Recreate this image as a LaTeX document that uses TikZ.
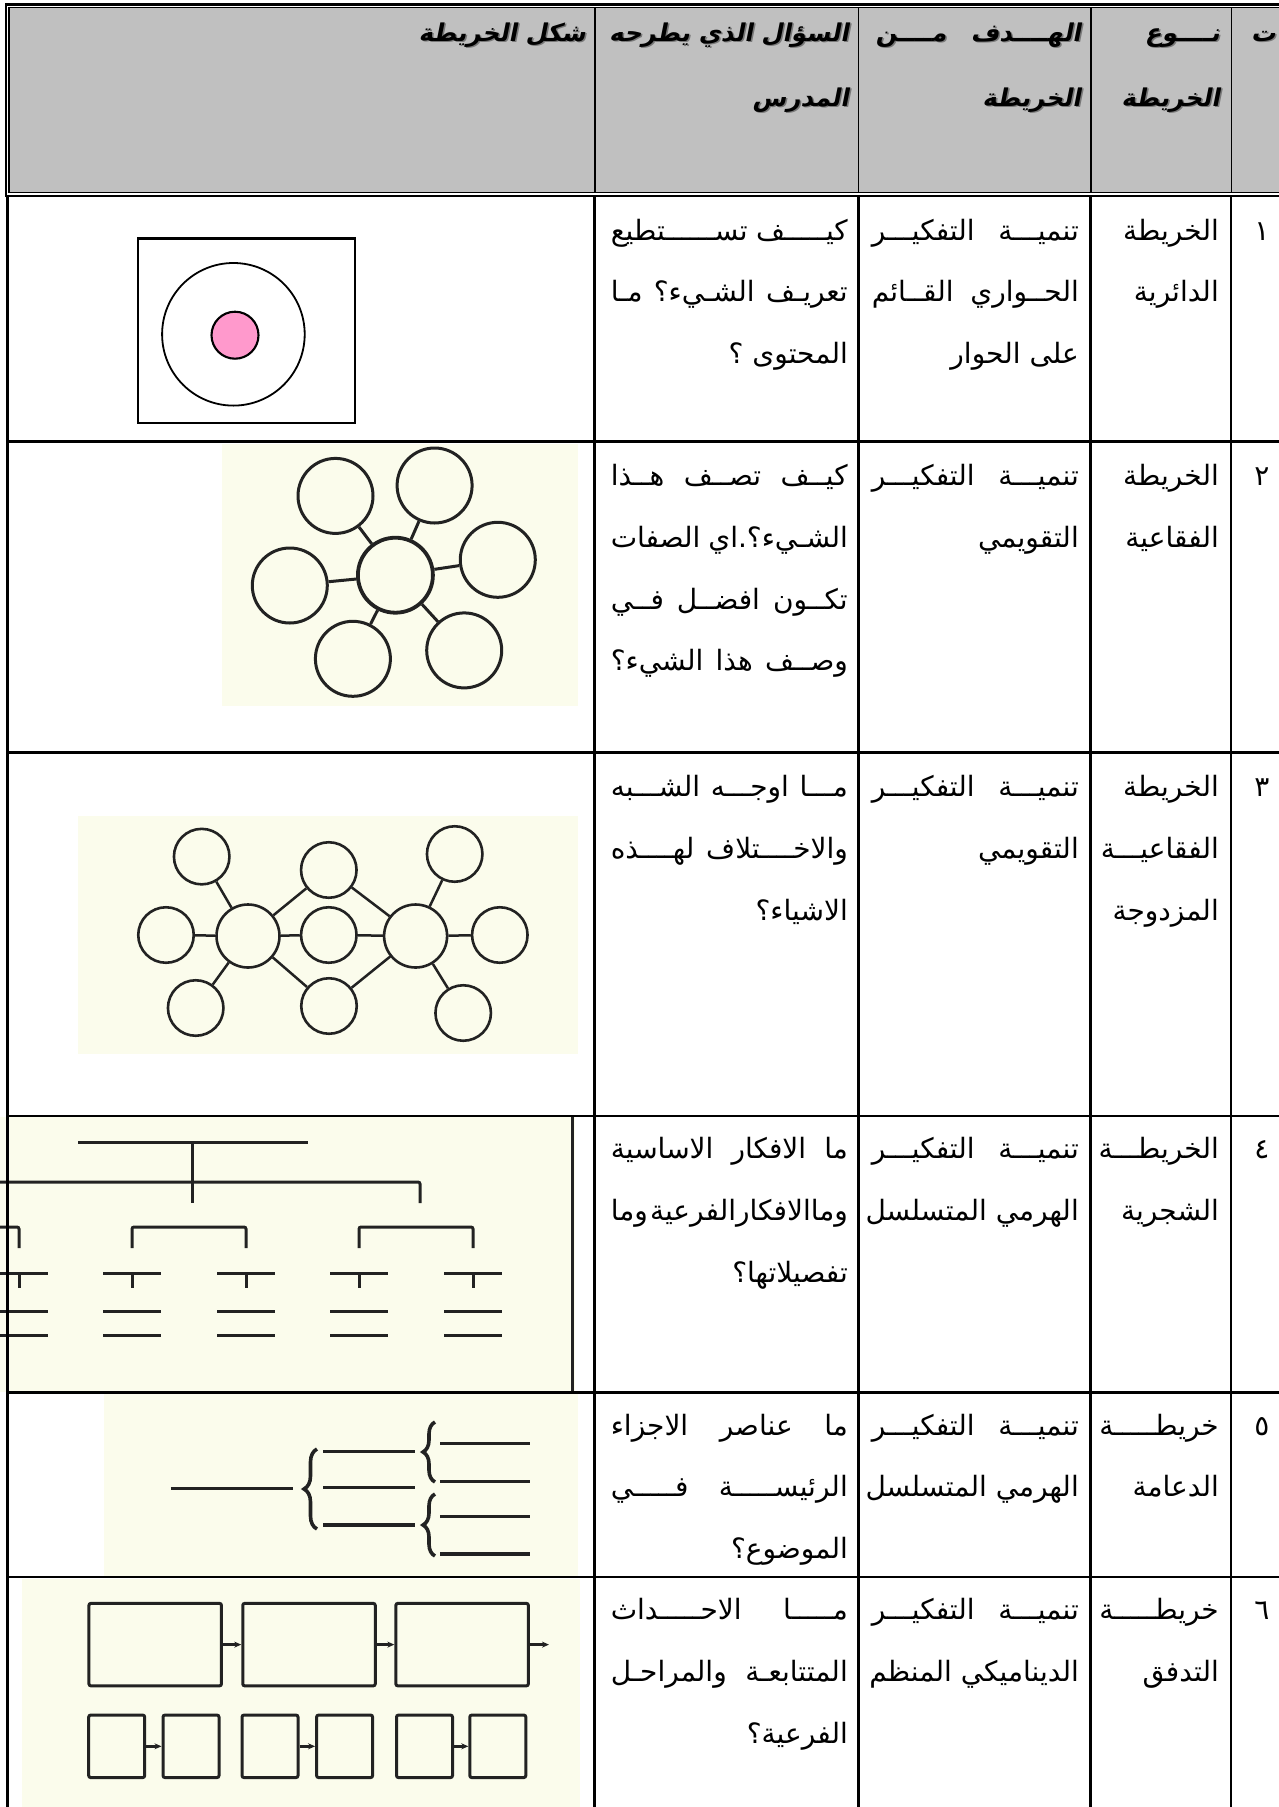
\documentclass[tikz,border=0pt]{standalone}
\usepackage{fontspec}
\usetikzlibrary{decorations.pathreplacing,arrows.meta}
\newfontfamily\arabicfont[Script=Arabic]{DejaVu Sans}
\newfontfamily\headfont[Script=Arabic,BoldFeatures={FakeSlant=0.2}]{DejaVu Sans}
\TeXXeTstate=1

\definecolor{headgray}{RGB}{192,192,192}
\definecolor{hshadow}{RGB}{120,120,120}
\definecolor{ivory}{RGB}{251,252,236}
\definecolor{ink}{RGB}{34,34,34}
\definecolor{pinkfill}{RGB}{255,153,204}

% one line of a cell: justified (words split by \wsp) or set flush right;
% the shrinkable glue keeps the right edge fixed if a line runs long
\newcommand\wsp{\hfill}
\newcommand\Jl[1]{\hbox to\hsize{\hskip0pt minus 1fil\beginR#1\endR}}
\newcommand\Rl[1]{\hbox to\hsize{\hskip0pt minus 1fil\hfill\beginR#1\endR}}
% header lines with a grey drop shadow
\newcommand\shline[1]{\hbox to\hsize{\rlap{\kern1.5pt\lower1.5pt\hbox to\hsize{\color{hshadow}#1}}\hbox to\hsize{#1}}}
\newcommand\HJ[1]{\shline{\hskip0pt minus 1fil\beginR#1\endR}}
\newcommand\HR[1]{\shline{\hskip0pt minus 1fil\hfill\beginR#1\endR}}
% a cell body of given width
\newcommand\celltxt[2]{\vtop{\hsize=#1pt\baselineskip=61.8pt\lineskiplimit=-1000pt\relax#2}}
\newcommand\headtxt[2]{\vtop{\hsize=#1pt\baselineskip=65pt\lineskiplimit=-1000pt\relax#2}}

\begin{document}
\begin{tikzpicture}[x=1pt,y=-1pt,
  bodytext/.style={anchor=base east,inner sep=0pt,font=\arabicfont\fontsize{28}{30}\selectfont},
  headtext/.style={anchor=base east,inner sep=0pt,font=\headfont\bfseries\fontsize{24.5}{26}\selectfont},
  numtext/.style={anchor=base,inner sep=0pt,font=\arabicfont\fontsize{28}{30}\selectfont},
  grid/.style={line width=2.3pt,black},
  thin/.style={line width=1.2pt,black},
  bub/.style={circle,draw=ink,line width=3pt,minimum size=75pt,inner sep=0pt},
  bubc/.style={bub,line width=3.8pt},
  dbig/.style={circle,draw=ink,line width=2.6pt,minimum size=63pt,inner sep=0pt},
  dsmall/.style={circle,draw=ink,line width=2.6pt,minimum size=55.5pt,inner sep=0pt},
  link/.style={draw=ink,line width=3pt},
  dlink/.style={draw=ink,line width=2.5pt},
  tree/.style={draw=ink,line width=3pt,rounded corners=2pt},
  brline/.style={draw=ink,line width=3.3pt},
  brc/.style={draw=ink,line width=3.6pt,decorate,decoration={brace,amplitude=#1}},
  fbox/.style={rectangle,draw=ink,line width=3pt,rounded corners=2pt,inner sep=0pt},
  flow/.style={draw=ink,line width=2.6pt,-{Stealth[length=7pt,width=6pt]}}
]
\useasboundingbox (0,0) rectangle (1279,1807);

% ---------- header band ----------
\fill[headgray] (9,7.3) rectangle (1295,192.3);
\draw[line width=2.4pt] (5.8,4.3) rectangle (1300,196);
\draw[thin] (9,7.3) rectangle (1300,192.3);
\foreach \x in {595,858.5,1091,1231.5} \draw[thin] (\x,7.3) -- (\x,192.3);

% ---------- picture backgrounds ----------
\fill[ivory] (222,444) rectangle (578,706);
\fill[ivory] (78,816) rectangle (578,1054);
\fill[ivory] (0,1117) rectangle (575,1392);
\fill[ivory] (103.6,1393) rectangle (578,1577);
\fill[ivory] (21.7,1579) rectangle (580,1807);

% ---------- 1: circle map ----------
\draw[line width=2.4pt] (138,238.5) rectangle (355,423);
\node[circle,draw=black,line width=1.8pt,minimum size=142.6pt,inner sep=0pt] (cmout) at (233.4,334.3) {};
\node[circle,draw=black,fill=pinkfill,line width=2.1pt,minimum size=47pt,inner sep=0pt] (cmin) at (235,335.2) {};

% ---------- 2: bubble map ----------
\node[bubc] (bc) at (395.4,575.2) {};
\node[bub] (b1) at (335.5,495.9) {};
\node[bub] (b2) at (434.6,485.5) {};
\node[bub] (b3) at (497.8,559.8) {};
\node[bub] (b4) at (289.8,585.5) {};
\node[bub] (b5) at (352.9,658.8) {};
\node[bub] (b6) at (464.2,650.4) {};
\foreach \n in {b1,b2,b3,b4,b5,b6} \path[link] (bc) -- (\n);

% ---------- 3: double bubble map ----------
\node[dbig] (dl) at (248,936) {};
\node[dbig] (dr) at (415.6,936) {};
\node[dsmall] (dm) at (328.8,935) {};
\node[dsmall] (dtm) at (328.8,870) {};
\node[dsmall] (dbm) at (329,1006) {};
\node[dsmall] (dtl) at (201.7,856.6) {};
\node[dsmall] (dlf) at (166,935) {};
\node[dsmall] (dbl) at (195.7,1008) {};
\node[dsmall] (dtr) at (454.7,854) {};
\node[dsmall] (drt) at (499.8,935) {};
\node[dsmall] (dbr) at (463.2,1013) {};
\foreach \n in {dtl,dlf,dbl,dtm,dm,dbm} \path[dlink] (dl) -- (\n);
\foreach \n in {dtr,drt,dbr,dtm,dm,dbm} \path[dlink] (dr) -- (\n);

% ---------- 4: tree map ----------
\begin{scope}
\clip (0,1117) rectangle (575,1392);
\draw[tree] (78,1142) -- (307.6,1142);
\draw[tree] (192.5,1142) -- (192.5,1203);
\draw[tree] (-20,1182) -- (420,1182) -- (420,1203);
\draw[tree] (-100,1227) -- (19,1227) -- (19,1248);
\draw[tree] (132,1248) -- (132,1227) -- (246,1227) -- (246,1248);
\draw[tree] (359,1248) -- (359,1227) -- (473,1227) -- (473,1248);
\foreach \c in {19,132,246,359,473} {
  \draw[tree] (\c-29,1273.5) -- (\c+29,1273.5);
  \draw[tree] (\c,1273.5) -- (\c,1288);
  \draw[tree] (\c-29,1311) -- (\c+29,1311);
  \draw[tree] (\c-29,1335) -- (\c+29,1335);
}
\end{scope}
\draw[line width=3.4pt,ink] (572.6,1117) -- (572.6,1392);

% ---------- 5: brace map ----------
\coordinate (wl) at (170.8,1488.5);
\coordinate (wr) at (292.7,1488.5);
\draw[brline] (wl) -- (wr);
\draw[brc=13pt] (317,1529) -- (317,1449);
\foreach \y in {1451.7,1487.7,1525} \draw[brline] (323,\y) -- (415,\y);
\draw[brc=12pt] (435,1482) -- (435,1422);
\draw[brc=12pt] (435,1556) -- (435,1494);
\foreach \y in {1443.3,1481.7,1516.7,1554} \draw[brline] (440,\y) -- (530,\y);

% ---------- 6: flow map ----------
\node[fbox,minimum width=132.5pt,minimum height=82.5pt] (f1) at (155.2,1644.6) {};
\node[fbox,minimum width=132.5pt,minimum height=82.5pt] (f2) at (309,1644.6) {};
\node[fbox,minimum width=132.5pt,minimum height=82.5pt] (f3) at (462.1,1644.6) {};
\coordinate (fend) at (549,1644.6);
\draw[flow] (f1) -- (f2);
\draw[flow] (f2) -- (f3);
\draw[flow] (f3) -- (fend);
\foreach \i/\x in {1/116.7,2/191,3/270,4/344.6,5/424.5,6/497.8}
  \node[fbox,minimum width=56pt,minimum height=62.5pt] (s\i) at (\x,1746.3) {};
\draw[flow] (s1) -- (s2);
\draw[flow] (s3) -- (s4);
\draw[flow] (s5) -- (s6);

% ---------- body rules ----------
\draw[grid] (7.5,196) -- (7.5,1810);
\foreach \x in {594.5,858.5,1090.5,1231} \draw[grid] (\x,196) -- (\x,1810);
\foreach \y in {441.5,752.5,1116,1392.5,1577} \draw[grid] (6.4,\y) -- (1300,\y);

% ---------- header text ----------
\node[headtext] (h0) at (1276,41) {\headtxt{30}{\HR{ت}}};
\node[headtext] (h1) at (1220,41) {\headtxt{120}{\HR{نــــوع}\HR{الخريطة}}};
\node[headtext] (h2) at (1081,41) {\headtxt{205}{\HJ{الهــــدف\wsp مــــن}\HR{الخريطة}}};
\node[headtext] (h3) at (849,41) {\headtxt{250}{\HR{السؤال الذي يطرحه}\HR{المدرس}}};
\node[headtext] (h4) at (586,41) {\headtxt{300}{\HR{شكل الخريطة}}};

% ---------- row 1 ----------
\node[numtext] (n1) at (1262,240) {١};
\node[bodytext] (t11) at (1219,240) {\celltxt{118}{\Rl{الخريطة}\Rl{الدائرية}}};
\node[bodytext] (t12) at (1079,240) {\celltxt{207}{\Jl{تنميـــة\wsp التفكيـــر}\Jl{الحــواري\wsp القــائم}\Rl{على الحوار}}};
\node[bodytext] (t13) at (848,240) {\celltxt{237}{\Jl{كيـــــف\wsp تســــــتطيع}\Jl{تعريـف\wsp الشـيء؟\wsp مـا}\Rl{المحتوى ؟}}};

% ---------- row 2 ----------
\node[numtext] (n2) at (1262,485.5) {٢};
\node[bodytext] (t21) at (1219,485.5) {\celltxt{118}{\Rl{الخريطة}\Rl{الفقاعية}}};
\node[bodytext] (t22) at (1079,485.5) {\celltxt{207}{\Jl{تنميـــة\wsp التفكيـــر}\Rl{التقويمي}}};
\node[bodytext] (t23) at (848,485.5) {\celltxt{237}{\Jl{كيــف\wsp تصــف\wsp هــذا}\Jl{الشـيء؟.اي\wsp الصفات}\Jl{تكــون\wsp افضــل\wsp فــي}\Jl{وصــف\wsp هذا\wsp الشيء؟}}};

% ---------- row 3 ----------
\node[numtext] (n3) at (1262,796.5) {٣};
\node[bodytext] (t31) at (1219,796.5) {\celltxt{118}{\Rl{الخريطة}\Rl{الفقاعيـــة}\Rl{المزدوجة}}};
\node[bodytext] (t32) at (1079,796.5) {\celltxt{207}{\Jl{تنميـــة\wsp التفكيـــر}\Rl{التقويمي}}};
\node[bodytext] (t33) at (848,796.5) {\celltxt{237}{\Jl{مـــا\wsp اوجـــه\wsp الشـــبه}\Jl{والاخــــتلاف\wsp لهــــذه}\Rl{الاشياء؟}}};

% ---------- row 4 ----------
\node[numtext] (n4) at (1262,1158.5) {٤};
\node[bodytext] (t41) at (1219,1158.5) {\celltxt{118}{\Rl{الخريطـــة}\Rl{الشجرية}}};
\node[bodytext] (t42) at (1079,1158.5) {\celltxt{207}{\Jl{تنميـــة\wsp التفكيـــر}\Rl{الهرمي المتسلسل}}};
\node[bodytext] (t43) at (848,1158.5) {\celltxt{237}{\Jl{ما\wsp الافكار\wsp الاساسية}\Jl{وماالافكارالفرعية\wsp وما}\Rl{تفصيلاتها؟}}};

% ---------- row 5 ----------
\node[numtext] (n5) at (1262,1435) {٥};
\node[bodytext] (t51) at (1219,1435) {\celltxt{118}{\Rl{خريطـــــة}\Rl{الدعامة}}};
\node[bodytext] (t52) at (1079,1435) {\celltxt{207}{\Jl{تنميـــة\wsp التفكيـــر}\Rl{الهرمي المتسلسل}}};
\node[bodytext] (t53) at (848,1435) {\celltxt{237}{\Jl{ما\wsp عناصر\wsp الاجزاء}\Jl{الرئيســـــة\wsp فـــــي}\Rl{الموضوع؟}}};

% ---------- row 6 ----------
\node[numtext] (n6) at (1262,1619.5) {٦};
\node[bodytext] (t61) at (1219,1619.5) {\celltxt{118}{\Rl{خريطـــــة}\Rl{التدفق}}};
\node[bodytext] (t62) at (1079,1619.5) {\celltxt{207}{\Jl{تنميـــة\wsp التفكيـــر}\Rl{الديناميكي المنظم}}};
\node[bodytext] (t63) at (848,1619.5) {\celltxt{237}{\Jl{مـــــا\wsp الاحـــــداث}\Jl{المتتابعـة\wsp والمراحـل}\Rl{الفرعية؟}}};
\end{tikzpicture}
\end{document}
